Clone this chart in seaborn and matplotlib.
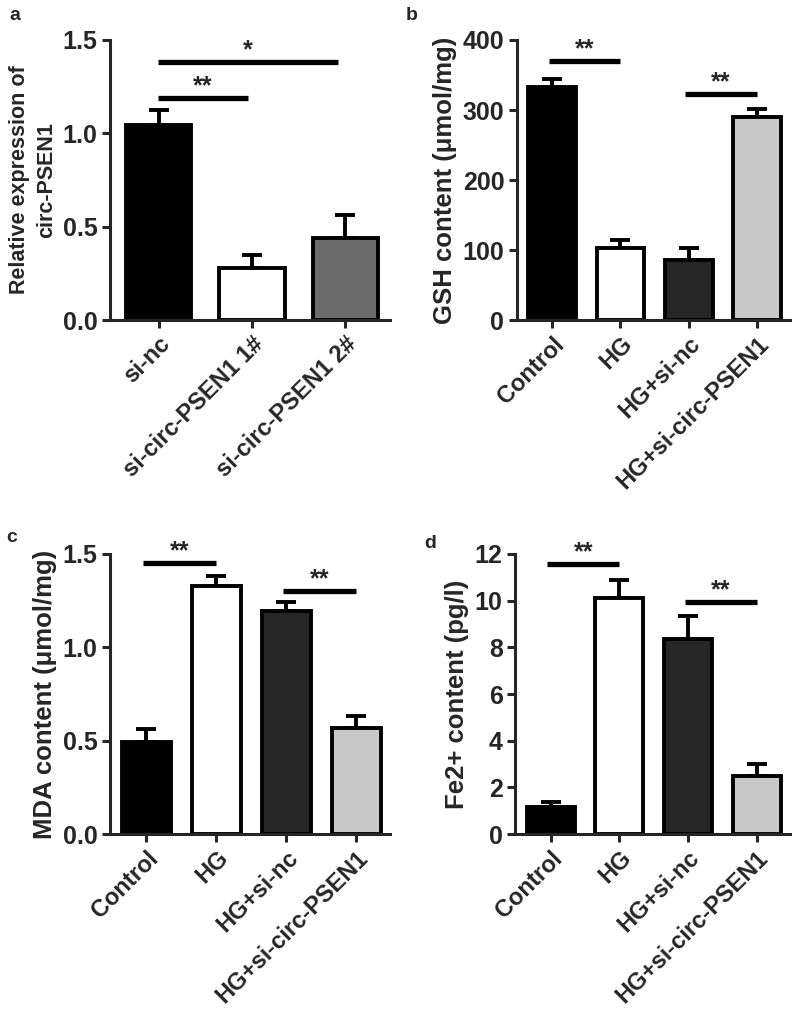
import matplotlib
matplotlib.use("Agg")
import matplotlib.pyplot as plt
import seaborn as sns
import numpy as np
import pandas as pd

# panel a
groups_a = ["si-nc", "si-circ-PSEN1 1#", "si-circ-PSEN1 2#"]
mean_a = [1.045, 0.28, 0.44]
err_a = [0.08, 0.07, 0.12]
colors_a = ["#000000", "#ffffff", "#6b6b6b"]

# panels b-d share groups
groups = ["Control", "HG", "HG+si-nc", "HG+si-circ-PSEN1"]
colors = ["#000000", "#ffffff", "#262626", "#c8c8c8"]

gsh_mean = [333, 103, 86, 290]
gsh_err = [11, 11, 17, 11]

mda_mean = [0.493, 1.33, 1.195, 0.57]
mda_err = [0.07, 0.05, 0.05, 0.06]

fe_mean = [1.16, 10.12, 8.37, 2.49]
fe_err = [0.21, 0.77, 0.97, 0.5]

sns.set_style("ticks")
plt.rcParams["font.family"] = ["Liberation Sans", "DejaVu Sans"]
plt.rcParams["font.weight"] = "bold"

fig = plt.figure(figsize=(8, 10.15), dpi=100)


def panel(rect, names, means, errs, cols, ylabel, ylab_size, ylim, yticks, fmt, sigs, letter, letter_xy):
    ax = fig.add_axes(rect)
    df = pd.DataFrame({"group": names, "value": means})
    sns.barplot(data=df, x="group", y="value", hue="group", palette=cols,
                edgecolor="black", linewidth=2.8, width=0.7, legend=False,
                errorbar=None, ax=ax)
    ax.errorbar(np.arange(len(names)), means, yerr=[np.zeros(len(errs)), errs],
                fmt="none", ecolor="black", elinewidth=2.8, capsize=7.5,
                capthick=2.8, zorder=0)
    ax.set_ylim(*ylim)
    ax.set_xlim(-0.52, len(names) - 0.52)
    ax.set_yticks(yticks)
    ax.set_yticklabels([fmt.format(t) for t in yticks], fontsize=18, fontweight="bold")
    ax.set_xticks(np.arange(len(names)))
    ax.set_xticklabels(names, rotation=45, ha="right", rotation_mode="anchor",
                       fontsize=17, fontweight="bold")
    ax.set_xlabel("")
    ax.set_ylabel(ylabel, fontsize=ylab_size, fontweight="bold", labelpad=4,
                  linespacing=1.35)
    sns.despine(ax=ax)
    for s in ["left", "bottom"]:
        ax.spines[s].set_linewidth(2.2)
    ax.tick_params(width=2.2, length=6, pad=3)
    for x0, x1, y, star in sigs:
        ax.plot([x0, x1], [y, y], color="black", lw=3.8, solid_capstyle="butt")
        ax.text((x0 + x1) / 2, y, star, ha="center", va="bottom",
                fontsize=18, fontweight="bold")
    fig.text(letter_xy[0], letter_xy[1], letter, fontsize=14, fontweight="bold",
             ha="left", va="center")
    return ax


panel([0.1375, 0.6847, 0.35, 0.2759], groups_a, mean_a, err_a, colors_a,
      "Relative expression of\ncirc-PSEN1", 15.5, (0, 1.5), [0, 0.5, 1.0, 1.5], "{:.1f}",
      [(-0.01, 0.96, 1.19, "**"), (-0.01, 1.92, 1.38, "*")], "a", (0.012, 0.985))

panel([0.646, 0.6847, 0.341, 0.2759], groups, gsh_mean, gsh_err, colors,
      "GSH content (μmol/mg)", 18.5, (0, 400), [0, 100, 200, 300, 400], "{:.0f}",
      [(-0.05, 1.0, 370, "**"), (1.95, 3.0, 323, "**")], "b", (0.507, 0.985))

panel([0.1375, 0.1783, 0.35, 0.2759], groups, mda_mean, mda_err, colors,
      "MDA content (μmol/mg)", 18.5, (0, 1.5), [0, 0.5, 1.0, 1.5], "{:.1f}",
      [(-0.05, 1.0, 1.452, "**"), (1.95, 3.0, 1.302, "**")], "c", (0.008, 0.47))

panel([0.644, 0.1783, 0.343, 0.2759], groups, fe_mean, fe_err, colors,
      "Fe2+ content (pg/l)", 18.5, (0, 12), [0, 2, 4, 6, 8, 10, 12], "{:.0f}",
      [(-0.05, 1.0, 11.57, "**"), (1.95, 3.0, 9.94, "**")], "d", (0.53, 0.465))

fig.savefig("out.png", dpi=100)
